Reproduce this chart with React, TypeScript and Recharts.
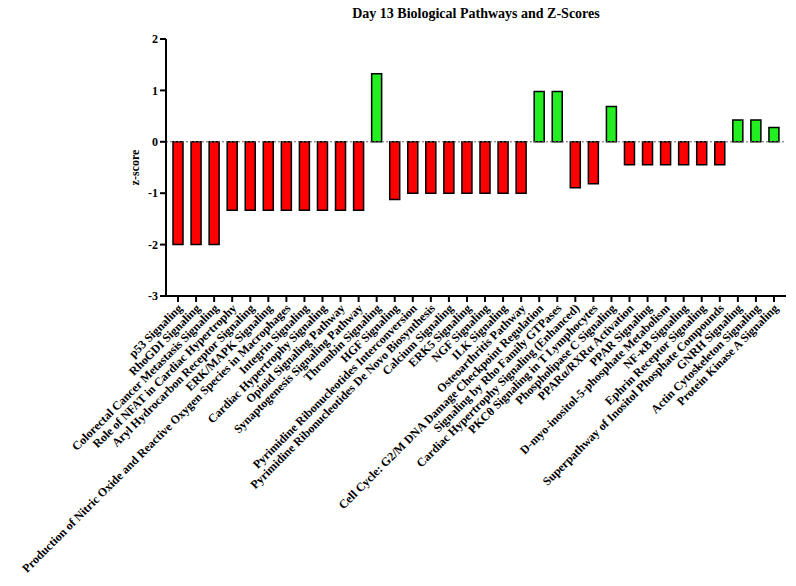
import { BarChart, Bar, XAxis, YAxis, Cell, ReferenceLine } from "recharts";

const pathways = [
  "p53 Signaling",
  "RhoGDI Signaling",
  "Colorectal Cancer Metastasis Signaling",
  "Role of NFAT in Cardiac Hypertrophy",
  "Aryl Hydrocarbon Receptor Signaling",
  "ERK/MAPK Signaling",
  "Production of Nitric Oxide and Reactive Oxygen Species in Macrophages",
  "Integrin Signaling",
  "Cardiac Hypertrophy Signaling",
  "Opioid Signaling Pathway",
  "Synaptogenesis Signaling Pathway",
  "Thrombin Signaling",
  "HGF Signaling",
  "Pyrimidine Ribonucleotides Interconversion",
  "Pyrimidine Ribonucleotides De Novo Biosynthesis",
  "Calcium Signaling",
  "ERK5 Signaling",
  "NGF Signaling",
  "ILK Signaling",
  "Osteoarthritis Pathway",
  "Cell Cycle: G2/M DNA Damage Checkpoint Regulation",
  "Signaling by Rho Family GTPases",
  "Cardiac Hypertrophy Signaling (Enhanced)",
  "PKCθ Signaling in T Lymphocytes",
  "Phospholipase C Signaling",
  "PPARα/RXRα Activation",
  "PPAR Signaling",
  "D-myo-inositol-5-phosphate Metabolism",
  "NF-κB Signaling",
  "Ephrin Receptor Signaling",
  "Superpathway of Inositol Phosphate Compounds",
  "GNRH Signaling",
  "Actin Cytoskeleton Signaling",
  "Protein Kinase A Signaling",
];

const zScores = [
  -2, -2, -2, -1.333, -1.333, -1.333, -1.333, -1.333, -1.333, -1.333, -1.333,
  1.323, -1.121, -1, -1, -1, -1, -1, -1, -1, 0.977, 0.977, -0.894, -0.816,
  0.688, -0.447, -0.447, -0.447, -0.447, -0.447, -0.447, 0.426, 0.426, 0.277,
];

const yTicks = [2, 1, 0, -1, -2, -3];

const data = pathways.map((name, i) => ({ name, z: zScores[i] }));

const FONT = '"Liberation Serif", "Times New Roman", serif';

const AngledTick = ({ x, y, payload }: any) => (
  <text
    x={x + 5}
    y={y + 5}
    transform={`rotate(-45, ${x + 5}, ${y + 5})`}
    textAnchor="end"
    fontFamily={FONT}
    fontWeight="bold"
    fontSize={12}
    fill="#000"
  >
    {payload.value}
  </text>
);

export default function App() {
  return (
    <div style={{ position: "absolute", left: 0, top: 0, width: 796, height: 586, background: "#fff" }}>
      <div style={{
        position: "absolute", left: 166, width: 620, top: 6, textAlign: "center",
        fontFamily: FONT, fontWeight: "bold", fontSize: 14, color: "#000",
      }}>
        Day 13 Biological Pathways and Z-Scores
      </div>
      <BarChart width={796} height={586} data={data}
        margin={{ top: 39, right: 10, left: 104, bottom: 0 }}>
        <XAxis dataKey="name" height={290} interval={0} tick={<AngledTick />}
          padding={{ left: 3, right: 3 }}
          axisLine={{ stroke: "#000", strokeWidth: 2 }}
          tickLine={{ stroke: "#000", strokeWidth: 2 }} tickSize={6} />
        <YAxis width={62} domain={[-3, 2]} ticks={yTicks} interval={0}
          axisLine={{ stroke: "#000", strokeWidth: 2 }}
          tickLine={{ stroke: "#000", strokeWidth: 2 }} tickSize={6}
          tick={{ fill: "#000", fontFamily: FONT, fontWeight: "bold", fontSize: 12 }}
          label={{ value: "z-score", angle: -90, position: "center",
            style: { fill: "#000", fontFamily: FONT, fontWeight: "bold", fontSize: 12 } }} />
        <ReferenceLine y={0} stroke="#666" strokeDasharray="2 2" strokeWidth={1} />
        <Bar dataKey="z" barSize={10} stroke="#000" strokeWidth={1.5} isAnimationActive={false}>
          {data.map((d, i) => (
            <Cell key={i} fill={d.z < 0 ? "#ff0000" : "#22ee22"} />
          ))}
        </Bar>
      </BarChart>
    </div>
  );
}
